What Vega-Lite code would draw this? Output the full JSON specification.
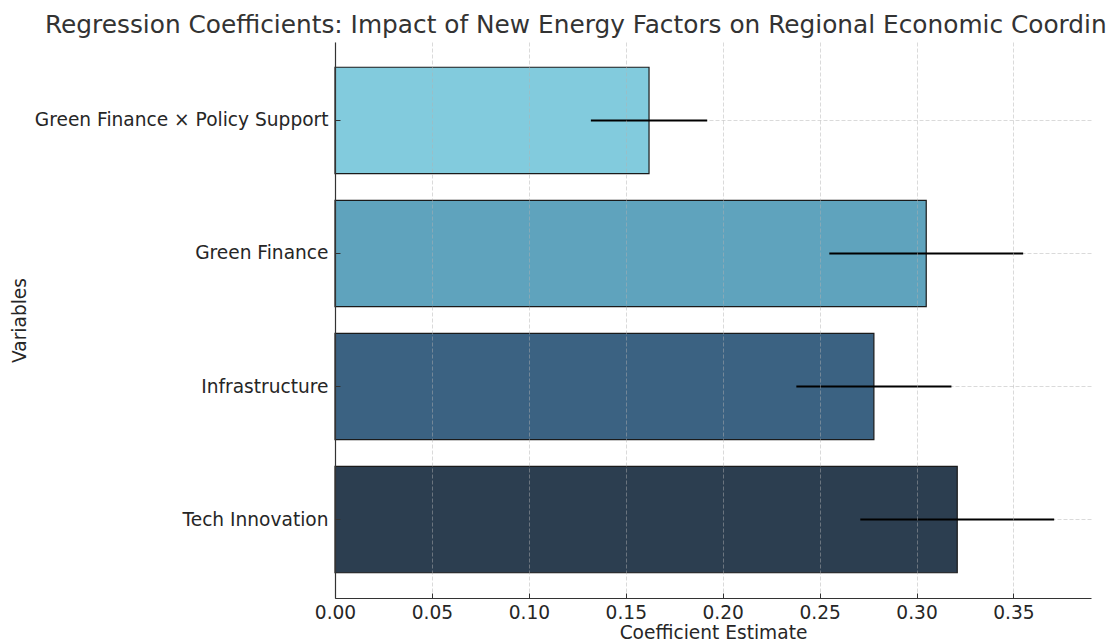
{
  "$schema": "https://vega.github.io/schema/vega-lite/v6.json",
  "autosize": "none",
  "width": 756,
  "height": 556,
  "padding": {"left": 335, "top": 42, "right": 20, "bottom": 45},
  "background": "white",
  "config": {
    "font": "DejaVu Sans",
    "view": {"stroke": null},
    "axis": {"labelFont": "DejaVu Sans", "titleFont": "DejaVu Sans", "labelColor": "#262626", "titleColor": "#262626", "titleFontWeight": "normal"}
  },
  "title": {
    "text": "Regression Coefficients: Impact of New Energy Factors on Regional Economic Coordin",
    "anchor": "start",
    "frame": "group",
    "dx": -290,
    "dy": 26,
    "offset": 10,
    "baseline": "alphabetic",
    "fontSize": 24.8,
    "fontWeight": "normal",
    "color": "#333333",
    "font": "DejaVu Sans"
  },
  "data": {
    "values": [
      {"Variable": "Green Finance × Policy Support", "coef": 0.162, "err": 0.030},
      {"Variable": "Green Finance", "coef": 0.305, "err": 0.050},
      {"Variable": "Infrastructure", "coef": 0.278, "err": 0.040},
      {"Variable": "Tech Innovation", "coef": 0.321, "err": 0.050}
    ]
  },
  "resolve": {"axis": {"y": "independent"}},
  "layer": [
    {
      "mark": {"type": "bar", "stroke": "#1a1a1a", "strokeWidth": 1.2},
      "encoding": {
        "y": {
          "field": "Variable",
          "type": "nominal",
          "sort": ["Green Finance × Policy Support", "Green Finance", "Infrastructure", "Tech Innovation"],
          "scale": {"paddingInner": 0.2, "paddingOuter": 0.19},
          "axis": {
            "title": "Variables",
            "titleFontSize": 18.6,
            "titleX": -306,
            "titleY": 278,
            "titleAlign": "center",
            "labelFontSize": 18.6,
            "labelPadding": 12,
            "labelLimit": 500,
            "tickSize": -5,
            "tickColor": "#333333",
            "domainColor": "#333333",
            "domainWidth": 1.2,
            "grid": false,
            "zindex": 1
          }
        },
        "x": {
          "field": "coef",
          "type": "quantitative",
          "scale": {"domain": [0, 0.39], "nice": false, "zero": true},
          "axis": {
            "title": "Coefficient Estimate",
            "titleFontSize": 18.6,
            "titlePadding": 2,
            "labelFontSize": 18.6,
            "labelPadding": 10,
            "labelFlush": false,
            "format": ".2f",
            "values": [0, 0.05, 0.1, 0.15, 0.2, 0.25, 0.3, 0.35],
            "tickSize": -5,
            "tickColor": "#333333",
            "domainColor": "#333333",
            "domainWidth": 1.2,
            "grid": true,
            "gridColor": "#b0b0b0",
            "gridOpacity": 0.6,
            "gridDash": [4, 2],
            "gridWidth": 0.8,
            "zindex": 1
          }
        },
        "color": {
          "field": "Variable",
          "type": "nominal",
          "scale": {
            "domain": ["Green Finance × Policy Support", "Green Finance", "Infrastructure", "Tech Innovation"],
            "range": ["#82cbdd", "#5fa3bd", "#3b6282", "#2c3e50"]
          },
          "legend": null
        }
      }
    },
    {
      "mark": {"type": "errorbar", "ticks": false, "rule": {"color": "#000000", "strokeWidth": 2}},
      "encoding": {
        "y": {
          "field": "Variable",
          "type": "nominal",
          "sort": ["Green Finance × Policy Support", "Green Finance", "Infrastructure", "Tech Innovation"],
          "axis": {
            "orient": "right",
            "title": null,
            "labels": false,
            "ticks": false,
            "domain": false,
            "grid": true,
            "gridColor": "#b0b0b0",
            "gridOpacity": 0.6,
            "gridDash": [4, 2],
            "gridWidth": 0.8,
            "zindex": 0
          }
        },
        "x": {"field": "coef", "type": "quantitative", "title": "Coefficient Estimate"},
        "xError": {"field": "err"}
      }
    }
  ]
}
